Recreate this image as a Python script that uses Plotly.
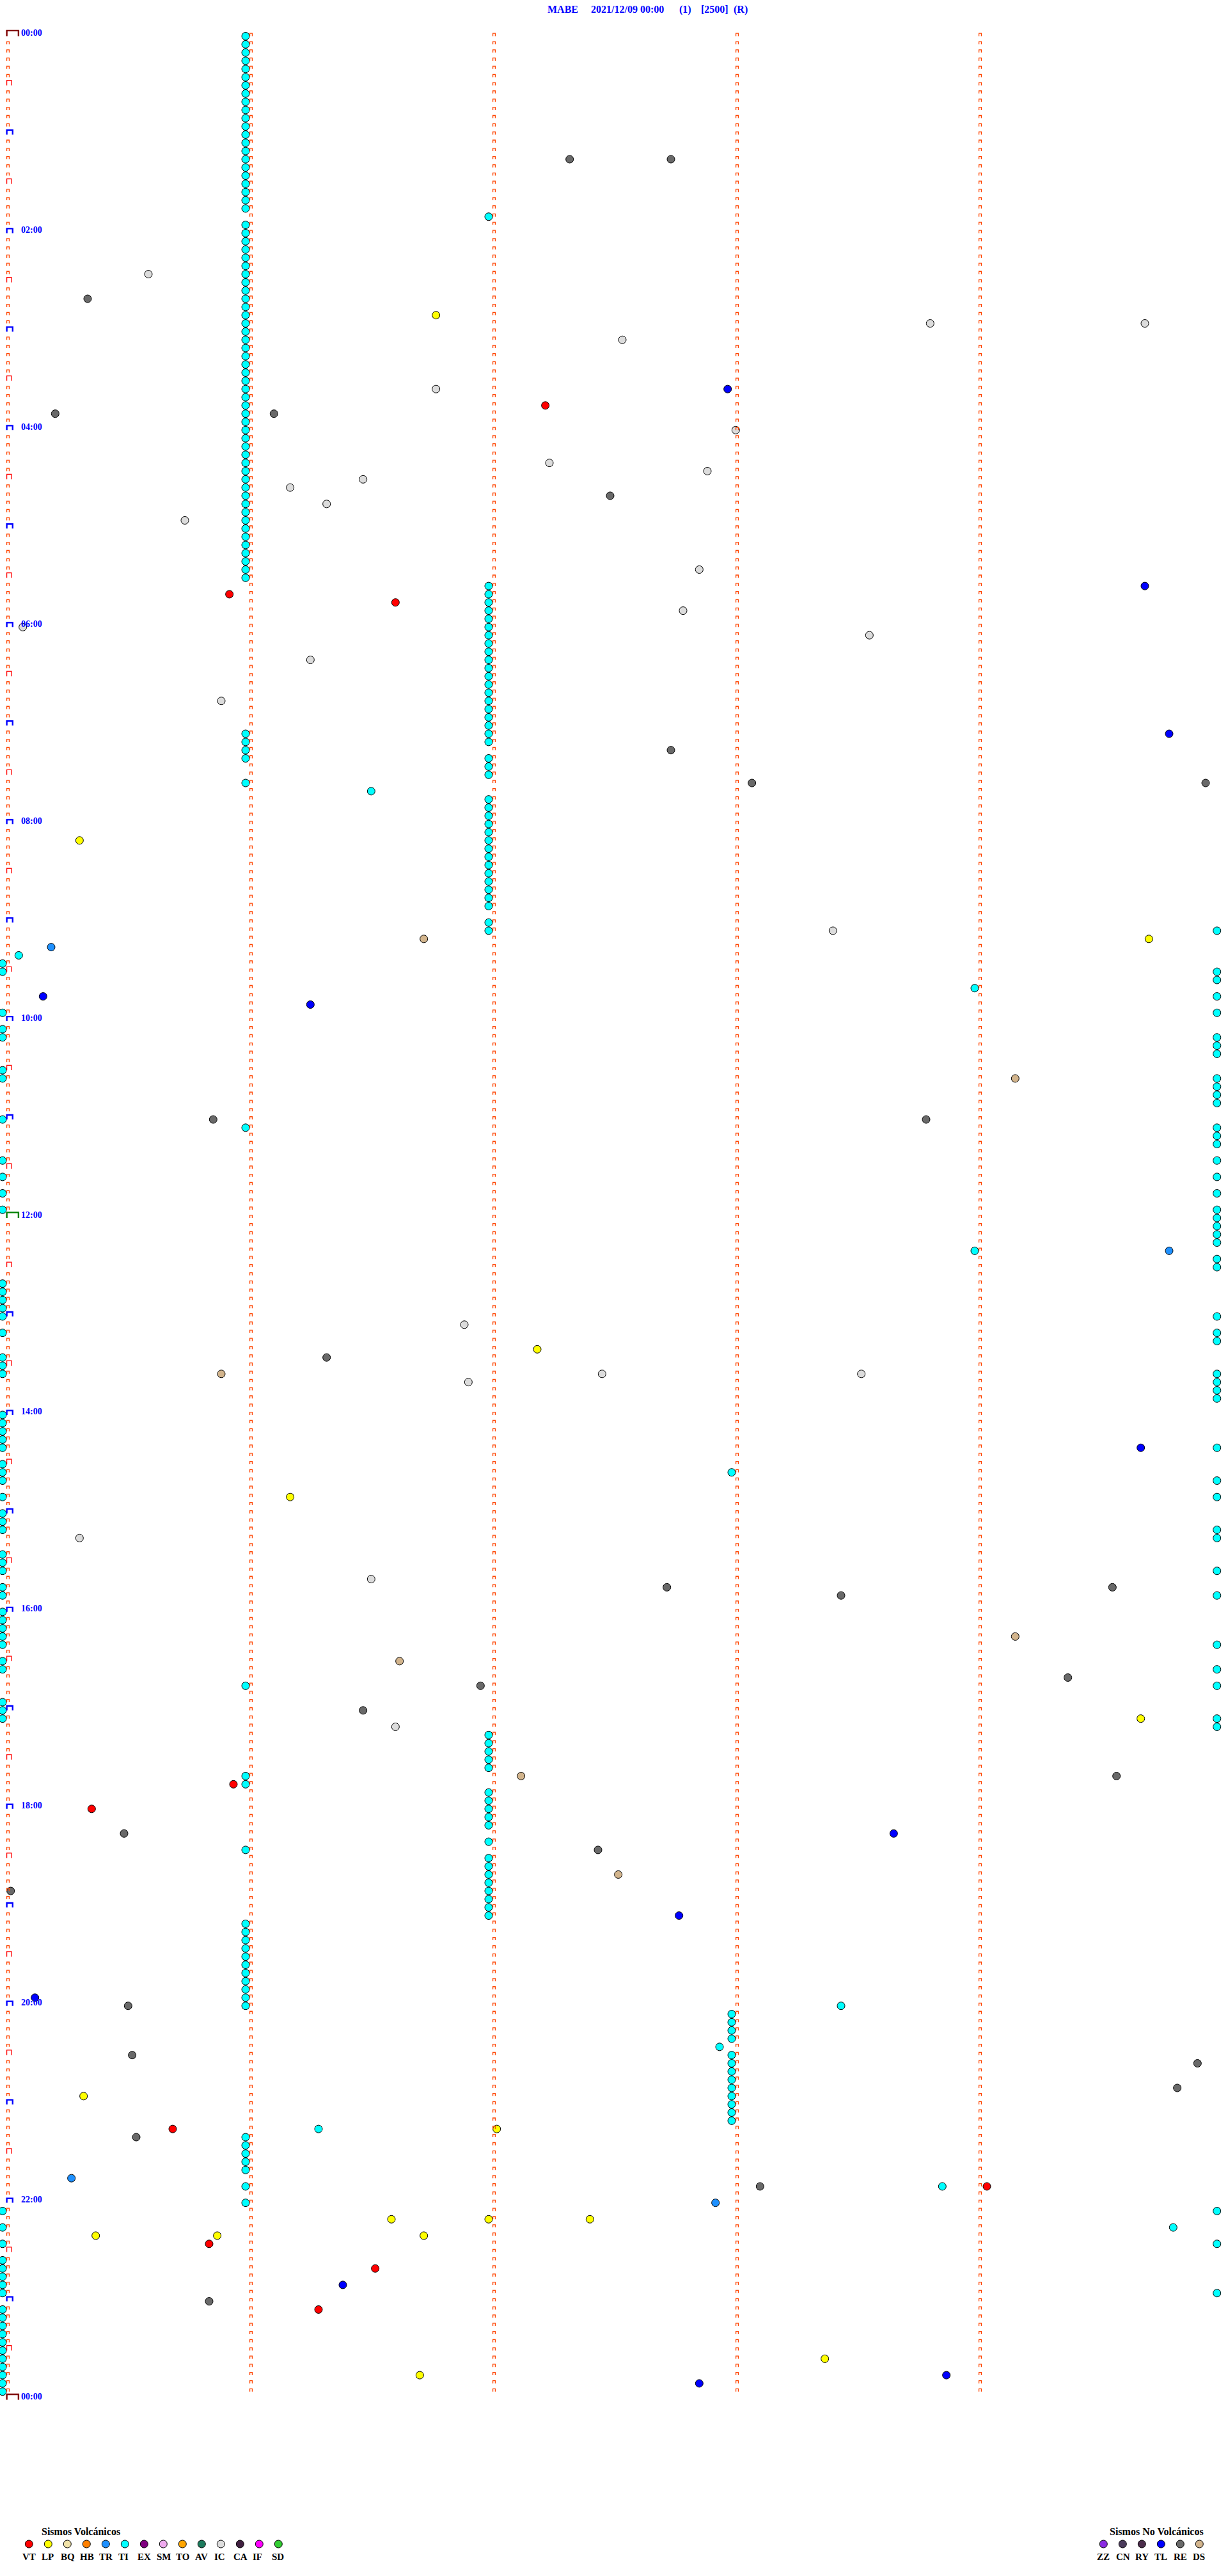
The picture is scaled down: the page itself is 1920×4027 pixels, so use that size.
import plotly.graph_objects as go

# ---------------- text ----------------
TITLE_PARTS = ["MABE", "2021/12/09 00:00", "(1)", "[2500]", "(R)"]
HOUR_LABELS = ["00:00", "02:00", "04:00", "06:00", "08:00", "10:00", "12:00",
               "14:00", "16:00", "18:00", "20:00", "22:00", "00:00"]

VOLCANIC_TITLE = "Sismos Volcánicos"
VOLCANIC_CODES = ["VT", "LP", "BQ", "HB", "TR", "TI", "EX", "SM", "TO", "AV", "IC", "CA", "IF", "SD"]
VOLCANIC_COLORS = ["#FF0000", "#FFFF00", "#F0E2A8", "#FF8000", "#1E90FF", "#00FFFF", "#800080",
                   "#EEAAEE", "#FFA500", "#1E7B5E", "#DCDCDC", "#402040", "#FF00FF", "#32CD32"]
NONVOLCANIC_TITLE = "Sismos No Volcánicos"
NONVOLCANIC_CODES = ["ZZ", "CN", "RY", "TL", "RE", "DS"]
NONVOLCANIC_COLORS = ["#8A2BE2", "#4B3B5B", "#4B2D4B", "#0000FF", "#696969", "#D2B48C"]

# ---------------- events (HH:MM:SS) ----------------
TI_TIMES = [
    "00:01:00", "00:06:00", "00:11:00", "00:16:00", "00:21:00", "00:26:00", "00:31:00", "00:36:00",
    "00:41:00", "00:46:00", "00:51:00", "00:56:00", "01:01:00", "01:06:00", "01:11:00", "01:16:00",
    "01:21:00", "01:26:00", "01:31:00", "01:36:00", "01:41:00", "01:46:00", "01:52:00", "01:56:00",
    "02:01:00", "02:06:00", "02:11:00", "02:16:00", "02:21:00", "02:26:00", "02:31:00", "02:36:00",
    "02:41:00", "02:46:00", "02:51:00", "02:56:00", "03:01:00", "03:06:00", "03:11:00", "03:16:00",
    "03:21:00", "03:26:00", "03:31:00", "03:36:00", "03:41:00", "03:46:00", "03:51:00", "03:56:00",
    "04:01:00", "04:06:00", "04:11:00", "04:16:00", "04:21:00", "04:26:00", "04:31:00", "04:36:00",
    "04:41:00", "04:46:00", "04:51:00", "04:56:00", "05:01:00", "05:06:00", "05:11:00", "05:16:00",
    "05:21:00", "05:26:00", "05:31:00",
    "05:37:00", "05:42:00", "05:47:00", "05:52:00", "05:57:00", "06:02:00", "06:07:00", "06:12:00",
    "06:17:00", "06:22:00", "06:27:00", "06:32:00", "06:37:00", "06:42:00", "06:47:00", "06:52:00",
    "06:57:00", "07:02:00", "07:07:00", "07:12:00", "07:22:00", "07:27:00", "07:32:00",
    "07:47:00", "07:52:00", "07:57:00", "08:02:00", "08:07:00", "08:12:00", "08:17:00", "08:22:00",
    "08:27:00", "08:32:00", "08:37:00", "08:42:00", "08:47:00", "08:52:00", "09:02:00", "09:07:00",
    "07:06:00", "07:11:00", "07:16:00", "07:21:00", "07:36:00", "07:41:31", "09:20:04",
    "09:25:00", "09:30:00", "09:55:00", "10:05:00", "10:10:00", "10:30:00", "10:35:00", "11:00:00",
    "11:25:00", "11:35:00", "11:45:00", "11:55:00", "12:40:00", "12:45:00", "12:50:00", "12:55:00",
    "13:00:00", "13:10:00", "13:25:00", "13:30:00", "13:35:00", "14:00:00", "14:05:00", "14:10:00",
    "14:15:00", "14:20:00", "14:30:00", "14:35:00", "14:40:00", "14:50:00", "15:00:00", "15:05:00",
    "15:10:00", "15:25:00", "15:30:00", "15:35:00", "15:45:00", "15:50:00", "16:00:00", "16:05:00",
    "16:10:00", "16:15:00", "16:20:00", "16:30:00", "16:35:00", "16:55:00", "17:00:00", "17:05:00",
    "22:05:00", "22:15:00", "22:25:00", "22:35:00", "22:40:00", "22:45:00", "22:50:00", "22:55:00",
    "23:05:00", "23:10:00", "23:15:00", "23:20:00", "23:25:00", "23:30:00", "23:35:00", "23:40:00",
    "23:45:00", "23:50:00", "23:55:00",
    "09:09:59.8", "09:34:59.8", "09:39:59.8", "09:49:59.8", "09:59:59.8", "10:14:59.8", "10:19:59.8",
    "10:24:59.8", "10:39:59.8", "10:44:59.8", "10:49:59.8", "10:54:59.8", "11:09:59.8", "11:14:59.8",
    "11:19:59.8", "11:29:59.8", "11:39:59.8", "11:49:59.8", "11:59:59.8", "12:04:59.8", "12:09:59.8",
    "12:14:59.8", "12:19:59.8", "12:29:59.8", "12:34:59.8", "13:04:59.8", "13:14:59.8", "13:19:59.8",
    "13:39:59.8", "13:44:59.8", "13:49:59.8", "13:54:59.8", "14:24:59.8", "14:44:59.8", "14:54:59.8",
    "15:14:59.8", "15:19:59.8", "15:39:59.8", "15:54:59.8", "16:24:59.8", "16:39:59.8", "16:49:59.8",
    "17:09:59.8", "17:14:59.8", "22:09:59.8", "22:29:59.8", "22:59:59.8",
    "09:44:00", "12:24:00", "11:06:00", "14:38:00", "16:46:00",
    "17:17:00", "17:22:00", "17:27:00", "17:32:00", "17:37:00", "17:41:00", "17:46:00",
    "17:52:00", "17:57:00", "18:02:00", "18:07:00", "18:12:00", "18:22:00", "18:26:00",
    "18:32:00", "18:37:00", "18:42:00", "18:47:00", "18:52:00", "18:57:00", "19:02:00", "19:07:00",
    "19:11:00", "19:16:00", "19:21:00", "19:26:00", "19:31:00", "19:36:00", "19:41:00", "19:46:00",
    "19:51:00", "19:56:00", "20:01:00", "20:03:27",
    "20:08:00", "20:13:00", "20:18:00", "20:23:00", "20:27:57", "20:33:00", "20:38:00", "20:43:00",
    "20:48:00", "20:53:00", "20:58:00", "21:03:00", "21:08:00", "21:13:00", "21:16:18",
    "21:21:00", "21:26:00", "21:31:00", "21:36:00", "21:41:00", "21:51:00", "21:53:52", "22:01:00",
    "22:19:49",
]
RE_TIMES = ["01:17:20", "01:17:45", "02:40:21", "03:50:13", "03:51:07", "04:42:30", "07:17:45",
            "07:38:05", "07:39:57", "11:00:52", "11:03:48", "13:26:20", "15:47:44", "15:49:34",
            "15:53:27", "16:44:23", "16:46:58", "17:01:29", "17:44:35", "18:15:30", "18:27:27",
            "18:50:02", "20:00:31", "20:30:32", "20:39:55", "20:54:50", "21:20:33", "21:53:07",
            "23:00:51"]
IC_TIMES = ["02:25:36", "02:58:49", "02:59:42", "03:07:33", "03:36:47", "04:03:01", "04:22:15",
            "04:27:54", "04:31:29", "04:36:11", "04:46:20", "04:55:45", "05:27:52", "05:52:48",
            "06:00:05", "06:08:34", "06:21:16", "06:45:54", "09:08:25", "13:06:54", "13:37:28",
            "13:38:32", "13:41:55", "15:15:19", "15:41:31", "17:11:37"]
LP_TIMES = ["02:51:47", "08:10:19", "09:14:43", "13:22:12", "14:51:11", "17:09:41", "20:55:20",
            "21:17:02", "22:11:36", "22:12:00", "22:12:25", "22:20:23", "22:20:53", "22:21:44",
            "23:38:23", "23:46:43"]
VT_TIMES = ["03:47:14", "05:40:56", "05:46:37", "17:45:57", "18:00:22", "21:15:42", "21:54:03",
            "22:25:51", "22:41:32", "23:06:18"]
TL_TIMES = ["03:37:59", "05:39:42", "07:09:48", "09:45:10", "09:51:16", "14:24:41", "18:18:40",
            "19:07:47", "19:55:08", "22:51:24", "23:48:53", "23:52:52"]
TR_TIMES = ["09:15:12", "12:24:48", "21:45:17", "22:02:56"]
DS_TIMES = ["09:11:44", "10:39:10", "13:35:54", "16:19:10", "16:31:38", "17:42:08", "18:42:32"]

EVENT_SERIES = [("TI", TI_TIMES), ("RE", RE_TIMES), ("IC", IC_TIMES), ("LP", LP_TIMES),
                ("VT", VT_TIMES), ("TL", TL_TIMES), ("TR", TR_TIMES), ("DS", DS_TIMES)]

# ---------------- geometry / style ----------------
W, H = 1920, 4027
ROW_MIN = 5            # minutes per row
N_ROWS = 288           # rows in one day
N_COLS = 5             # minute ticks per row
X0_PX, PX_PER_MIN = 4.0, 380.0
Y0_PX, PX_PER_ROW = 56.5, 12.83
SERIF = "Liberation Serif, Times New Roman, serif"

COLOR = dict(zip(VOLCANIC_CODES + NONVOLCANIC_CODES, VOLCANIC_COLORS + NONVOLCANIC_COLORS))


def minutes_of_day(t):
    h, m, s = t.split(":")
    return int(h) * 60 + int(m) + float(s) / 60.0


def place(times):
    xs, ys = [], []
    for t in times:
        tm = minutes_of_day(t)
        r = int(tm // ROW_MIN)
        xs.append(tm - r * ROW_MIN)
        ys.append(r)
    return xs, ys


fig = go.Figure()

# events
for code, times in EVENT_SERIES:
    xs, ys = place(times)
    fig.add_trace(go.Scatter(
        x=xs, y=ys, mode="markers", name=code, hoverinfo="skip",
        marker=dict(size=12, color=COLOR[code], line=dict(color="black", width=1))))


# minute tick brackets
def bracket_trace(items, color, width):
    xs, ys = [], []
    for col, row, w_px, h_px in items:
        xl = col + 6.6 / PX_PER_MIN
        xr = xl + w_px / PX_PER_MIN
        yt = row - h_px / PX_PER_ROW
        xs += [xl, xl, xr, xr, None]
        ys += [row, yt, yt, row, None]
    return go.Scatter(x=xs, y=ys, mode="lines", hoverinfo="skip",
                      line=dict(color=color, width=width), connectgaps=False)


small, half, hour, day, noon = [], [], [], [], []
for r in range(N_ROWS + 1):
    for c in range(N_COLS):
        if r == N_ROWS and c > 0:
            continue
        if c == 0 and r % 144 == 0:
            (day if r % N_ROWS == 0 else noon).append((c, r, 18.3, 8.6))
        elif c == 0 and r % 12 == 0:
            hour.append((c, r, 9.2, 7.0))
        elif c == 0 and r % 6 == 0:
            half.append((c, r, 7.3, 7.8))
        else:
            small.append((c, r, 3.8, 4.3))

fig.add_trace(bracket_trace(small, "#FF4500", 1.3))
fig.add_trace(bracket_trace(half, "#FF0000", 1.3))
fig.add_trace(bracket_trace(hour, "#0000FF", 2.4))
fig.add_trace(bracket_trace(day, "#800000", 2.4))
fig.add_trace(bracket_trace(noon, "#008000", 2.4))

annotations = []
# hour labels (every 2 hours)
for i, lab in enumerate(HOUR_LABELS):
    r = i * 24
    annotations.append(dict(
        text=f"<b>{lab}</b>", xref="paper", yref="y", x=31.0 / W, y=r - 5.0 / PX_PER_ROW,
        xanchor="left", yanchor="middle", showarrow=False,
        font=dict(family=SERIF, size=14, color="#0000FF")))

# title pieces
TITLE_X_PX = [854, 922, 1060, 1094, 1145]
for txt, xp in zip(TITLE_PARTS, TITLE_X_PX):
    annotations.append(dict(
        text=f"<b>{txt}</b>", xref="paper", yref="paper", x=xp / W, y=1 - 14.5 / H,
        xanchor="left", yanchor="middle", showarrow=False,
        font=dict(family=SERIF, size=16, color="#0000FF")))

# legends (pixel overlay axes)
LEG_Y_DOT, LEG_Y_LAB, LEG_Y_TITLE = 3977, 3997, 3957
leg_x, leg_y, leg_c = [], [], []
for start, codes, colors, title, title_x in [
        (45.3, VOLCANIC_CODES, VOLCANIC_COLORS, VOLCANIC_TITLE, 63.3),
        (1725.3, NONVOLCANIC_CODES, NONVOLCANIC_COLORS, NONVOLCANIC_TITLE, 1733.3)]:
    annotations.append(dict(
        text=f"<b>{title}</b>", xref="x2", yref="y2", x=title_x, y=LEG_Y_TITLE,
        xanchor="left", yanchor="middle", showarrow=False,
        font=dict(family=SERIF, size=16, color="black")))
    for i, (code, col) in enumerate(zip(codes, colors)):
        cx = start + 30 * i
        leg_x.append(cx)
        leg_y.append(LEG_Y_DOT)
        leg_c.append(col)
        annotations.append(dict(
            text=f"<b>{code}</b>", xref="x2", yref="y2", x=cx - 12.5, y=LEG_Y_LAB,
            xanchor="left", yanchor="middle", showarrow=False,
            font=dict(family=SERIF, size=15, color="black")))

fig.add_trace(go.Scatter(
    x=leg_x, y=leg_y, xaxis="x2", yaxis="y2", mode="markers", hoverinfo="skip",
    marker=dict(size=12, color=leg_c, line=dict(color="black", width=1))))

axis_off = dict(visible=False, showgrid=False, zeroline=False, fixedrange=True)
fig.update_layout(
    width=W, height=H, margin=dict(l=0, r=0, t=0, b=0, pad=0),
    paper_bgcolor="white", plot_bgcolor="white", showlegend=False,
    xaxis=dict(range=[-X0_PX / PX_PER_MIN, (W - X0_PX) / PX_PER_MIN], domain=[0, 1], **axis_off),
    yaxis=dict(range=[(H - Y0_PX) / PX_PER_ROW, -Y0_PX / PX_PER_ROW], domain=[0, 1], **axis_off),
    xaxis2=dict(range=[0, W], overlaying="x", anchor="y2", **axis_off),
    yaxis2=dict(range=[H, 0], overlaying="y", anchor="x2", **axis_off),
    annotations=annotations,
)

fig.write_html("out.html", post_script="document.body.style.margin='0';",
               config={"displayModeBar": False})
